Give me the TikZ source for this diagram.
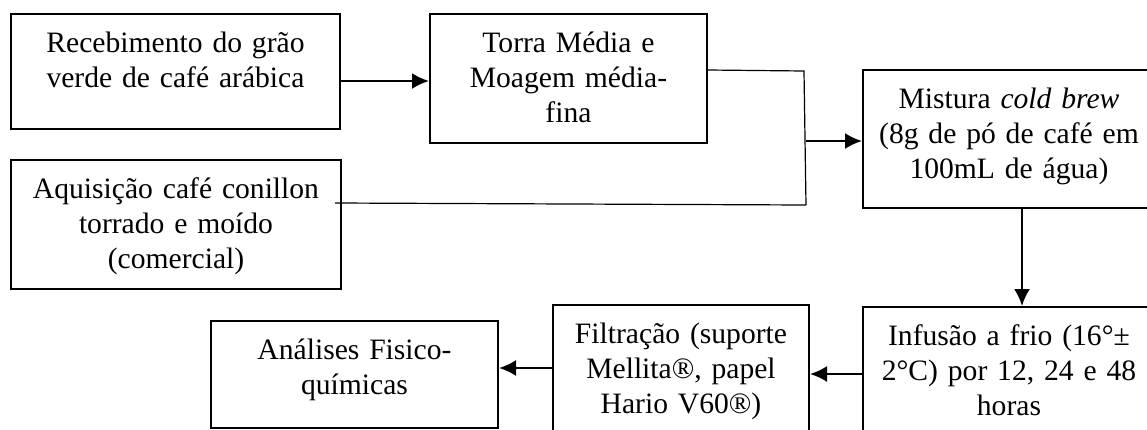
\documentclass[tikz,border=0pt]{standalone}
\usepackage{fontspec}
\setmainfont{Liberation Serif}
\usepackage{tikz}
\usetikzlibrary{arrows.meta}

\tikzset{
  etapa/.style={draw, line width=1pt, anchor=north west, align=center,
    inner xsep=0pt, inner ysep=0pt, text height=19pt,
    font=\fontsize{14.8pt}{17.5pt}\selectfont},
  seta/.style={line width=1.1pt, -{Latex[length=8.5pt,width=8pt]}},
  liga/.style={line width=0.6pt}
}

\begin{document}
\begin{tikzpicture}[x=0.5pt,y=-0.5pt]
\useasboundingbox (0,0) rectangle (1147,429);
\clip (0,0) rectangle (1147,429);
% etapas
\node[etapa, text width=164.5pt, text depth=38.5pt] (recebe) at (10,13) {Recebimento do grão\\verde de café arábica};
\node[etapa, text width=138.5pt, text depth=45.5pt] (torra) at (429,13) {Torra Média e\\Moagem média-\\fina};
\node[etapa, text width=165pt, text depth=45.5pt] (aquis) at (10,159) {Aquisição café conillon\\torrado e moído\\(comercial)};
\node[etapa, text width=146pt, text depth=50pt] (mistura) at (862,69) {Mistura \textit{cold brew}\\(8g de pó de café em\\100mL de água)};
\node[etapa, text width=146pt, text depth=53pt] (infusao) at (862,306) {Infusão a frio (16°±\\2°C) por 12, 24 e 48\\horas};
\node[etapa, text width=128pt, text depth=54pt] (filtra) at (552,304) {Filtração (suporte\\Mellita®, papel\\Hario V60®)};
\node[etapa, text width=143.5pt, text depth=34.5pt] (analise) at (210,320) {Análises Fisico-\\químicas};
% juncao
\coordinate (jtop) at (804,71);
\coordinate (jmeio) at (806,141);
\coordinate (jbase) at (806,205);
\draw[liga] ([yshift=4.25pt]torra.east) -- (jtop) -- (jbase);
\draw[liga] ([xshift=-3.5pt,yshift=10.75pt]aquis.east) -- (jbase);
% setas
\draw[seta] ([yshift=-4.75pt]recebe.east) -- ([yshift=-4.75pt]recebe.east -| torra.west);
\draw[seta] (jmeio) -- (jmeio -| mistura.west);
\draw[seta] ([xshift=6.5pt]mistura.south) -- ([xshift=6.5pt]mistura.south |- infusao.north);
\draw[seta] ([yshift=2.5pt]infusao.west) -- ([yshift=2.5pt]infusao.west -| filtra.east);
\draw[seta] ([yshift=5pt]filtra.west) -- ([yshift=5pt]filtra.west -| analise.east);
\end{tikzpicture}
\end{document}
